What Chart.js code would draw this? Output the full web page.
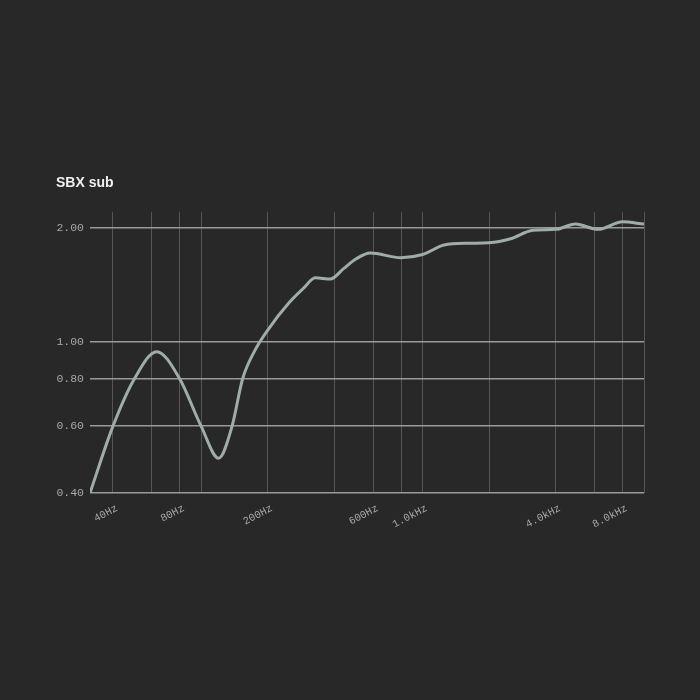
<!DOCTYPE html>
<html><head><meta charset="utf-8">
<script src="https://cdn.jsdelivr.net/npm/chart.js@4"></script>
<style>html,body{margin:0;padding:0;background:#282828;} #wrap{width:700px;height:700px;position:relative;}</style>
</head><body><div id="wrap"><canvas id="c"></canvas></div>
<script>
const chartTitle = 'SBX sub';
const frequencies = [31.5, 40, 50, 63, 80, 100, 120, 138, 154, 175, 200, 250, 290, 328, 384, 440, 500, 580, 800, 1000, 1250, 1600, 2000, 2500, 3150, 4000, 4900, 6200, 8000, 10000];
const responseValues = [0.40, 0.60, 0.80, 0.943, 0.80, 0.60, 0.494, 0.60, 0.80, 0.95, 1.075, 1.27, 1.385, 1.476, 1.465, 1.56, 1.654, 1.715, 1.667, 1.70, 1.80, 1.82, 1.825, 1.87, 1.97, 1.98, 2.044, 1.98, 2.073, 2.044];
const xGridTicks = [40, 60, 80, 100, 200, 400, 600, 800, 1000, 2000, 4000, 6000, 8000, 10000];
const xLabelTicks = [40, 80, 200, 600, 1000, 4000, 8000];
const yTicks = [0.4, 0.6, 0.8, 1.0, 2.0];

function fmtFreq(f) {
  return f < 1000 ? f + 'Hz' : (f / 1000).toFixed(1) + 'kHz';
}

const mono = "'Liberation Mono', 'DejaVu Sans Mono', monospace";

new Chart(document.getElementById('c'), {
  type: 'line',
  data: {
    datasets: [{
      data: frequencies.map((f, i) => ({x: f, y: responseValues[i]})),
      borderColor: '#a0aca8',
      borderWidth: 3,
      pointRadius: 0,
      cubicInterpolationMode: 'monotone',
      fill: false
    }]
  },
  options: {
    responsive: true,
    maintainAspectRatio: false,
    animation: false,
    layout: {padding: {top: 169, left: 56, right: 56, bottom: 157}},
    plugins: {
      legend: {display: false},
      tooltip: {enabled: false},
      title: {
        display: true,
        text: chartTitle,
        align: 'start',
        color: '#f0f0f0',
        font: {family: "'Liberation Sans', Arial, sans-serif", size: 14, weight: 'bold', lineHeight: 1.2},
        padding: {top: 6, bottom: 20.2}
      }
    },
    scales: {
      x: {
        type: 'logarithmic',
        min: 31.5,
        max: 10000,
        afterBuildTicks: s => { s.ticks = xGridTicks.map(v => ({value: v})); },
        afterFit: s => { s.height = 50; },
        grid: {color: '#555555', lineWidth: 1, drawTicks: false},
        border: {display: false},
        ticks: {
          autoSkip: false,
          minRotation: 28,
          maxRotation: 28,
          padding: 9,
          labelOffset: 4,
          color: '#a8a8a8',
          font: {family: mono, size: 10.5},
          callback: v => xLabelTicks.includes(v) ? fmtFreq(v) : ''
        }
      },
      y: {
        type: 'logarithmic',
        min: 0.4,
        max: 2.2,
        afterBuildTicks: s => { s.ticks = yTicks.map(v => ({value: v})); },
        afterFit: s => { s.width = 34; },
        grid: {color: '#9a9a9a', lineWidth: 1.5, drawTicks: false},
        border: {display: false},
        ticks: {
          padding: 6,
          color: '#a8a8a8',
          font: {family: mono, size: 11.5},
          callback: v => Number(v).toFixed(2)
        }
      }
    }
  }
});
</script>
</body></html>
